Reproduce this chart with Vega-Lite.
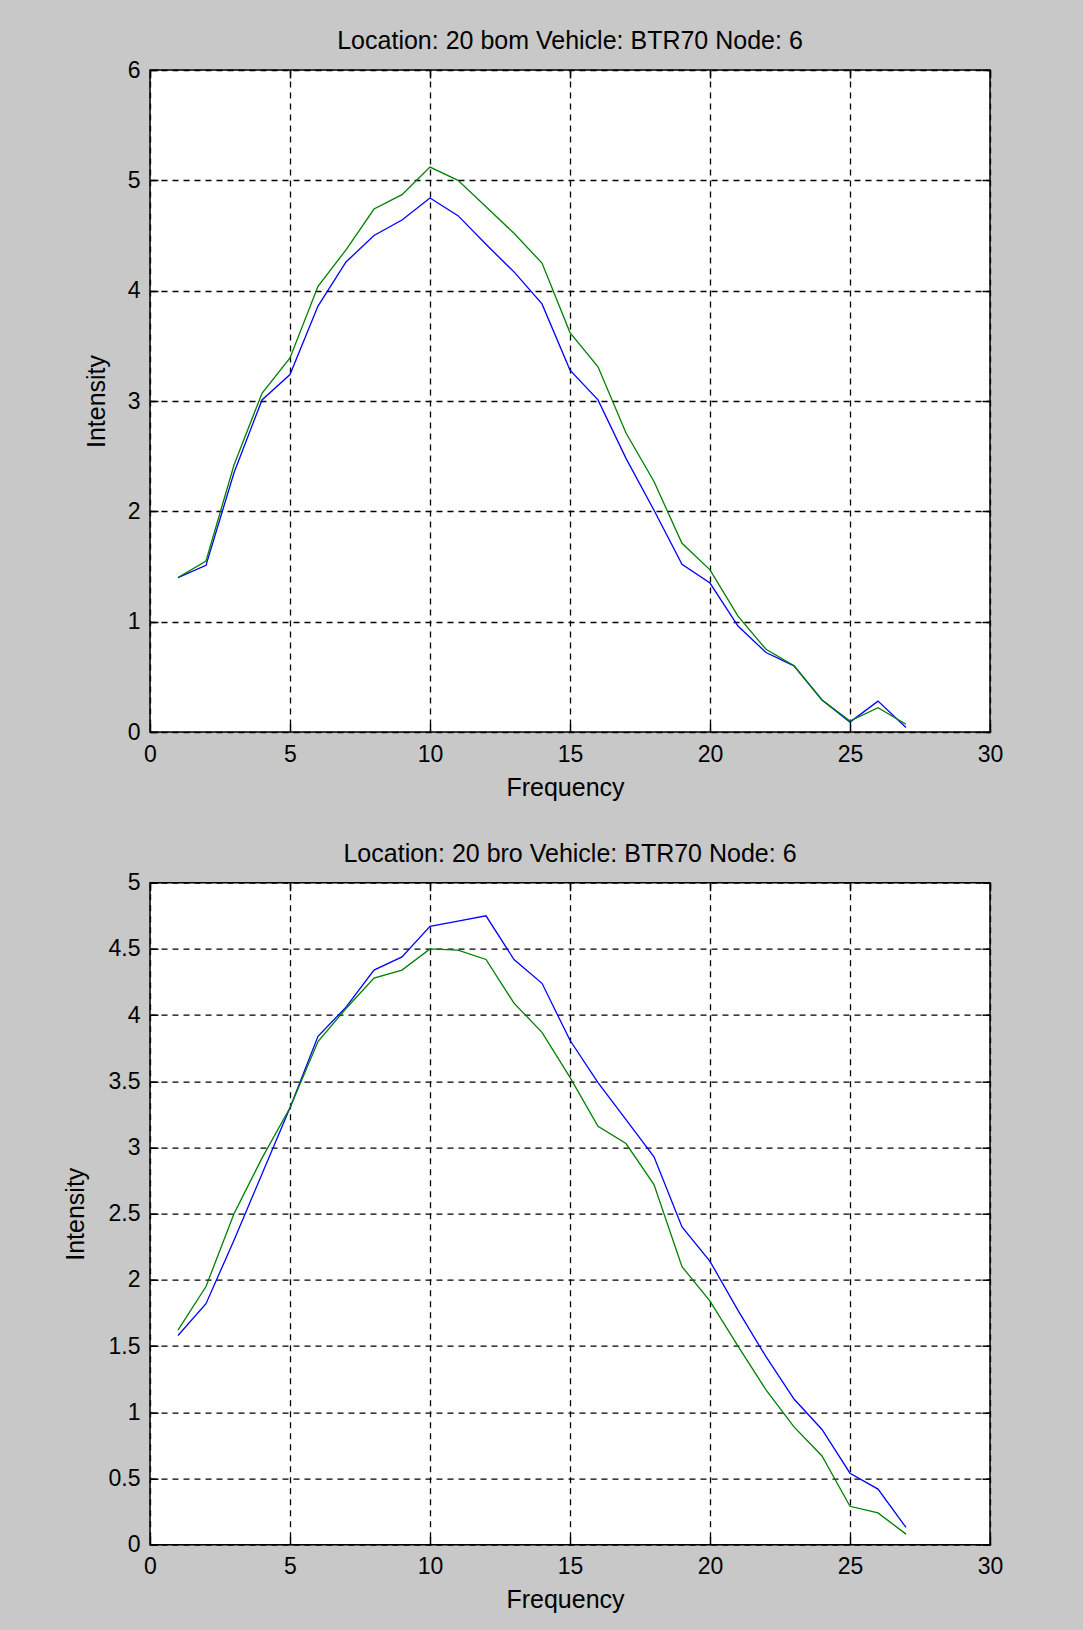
{
  "$schema": "https://vega.github.io/schema/vega-lite/v6.json",
  "background": "#c8c8c8",
  "padding": {"left": 62, "top": 28, "right": 94, "bottom": 20},
  "bounds": "flush",
  "spacing": 150.7,
  "datasets": {
    "top": [
      {"f":1,"v":1.40,"s":"b"},{"f":2,"v":1.51,"s":"b"},{"f":3,"v":2.35,"s":"b"},{"f":4,"v":3.01,"s":"b"},{"f":5,"v":3.24,"s":"b"},{"f":6,"v":3.86,"s":"b"},{"f":7,"v":4.26,"s":"b"},{"f":8,"v":4.50,"s":"b"},{"f":9,"v":4.64,"s":"b"},{"f":10,"v":4.84,"s":"b"},{"f":11,"v":4.68,"s":"b"},{"f":12,"v":4.42,"s":"b"},{"f":13,"v":4.17,"s":"b"},{"f":14,"v":3.88,"s":"b"},{"f":15,"v":3.28,"s":"b"},{"f":16,"v":3.01,"s":"b"},{"f":17,"v":2.48,"s":"b"},{"f":18,"v":2.01,"s":"b"},{"f":19,"v":1.52,"s":"b"},{"f":20,"v":1.35,"s":"b"},{"f":21,"v":0.96,"s":"b"},{"f":22,"v":0.72,"s":"b"},{"f":23,"v":0.60,"s":"b"},{"f":24,"v":0.29,"s":"b"},{"f":25,"v":0.09,"s":"b"},{"f":26,"v":0.28,"s":"b"},{"f":27,"v":0.04,"s":"b"},
      {"f":1,"v":1.40,"s":"g"},{"f":2,"v":1.55,"s":"g"},{"f":3,"v":2.42,"s":"g"},{"f":4,"v":3.07,"s":"g"},{"f":5,"v":3.39,"s":"g"},{"f":6,"v":4.04,"s":"g"},{"f":7,"v":4.37,"s":"g"},{"f":8,"v":4.74,"s":"g"},{"f":9,"v":4.87,"s":"g"},{"f":10,"v":5.12,"s":"g"},{"f":11,"v":5.00,"s":"g"},{"f":12,"v":4.76,"s":"g"},{"f":13,"v":4.52,"s":"g"},{"f":14,"v":4.25,"s":"g"},{"f":15,"v":3.62,"s":"g"},{"f":16,"v":3.31,"s":"g"},{"f":17,"v":2.71,"s":"g"},{"f":18,"v":2.27,"s":"g"},{"f":19,"v":1.71,"s":"g"},{"f":20,"v":1.47,"s":"g"},{"f":21,"v":1.05,"s":"g"},{"f":22,"v":0.75,"s":"g"},{"f":23,"v":0.60,"s":"g"},{"f":24,"v":0.29,"s":"g"},{"f":25,"v":0.10,"s":"g"},{"f":26,"v":0.22,"s":"g"},{"f":27,"v":0.07,"s":"g"}
    ],
    "bottom": [
      {"f":1,"v":1.58,"s":"b"},{"f":2,"v":1.82,"s":"b"},{"f":3,"v":2.30,"s":"b"},{"f":4,"v":2.80,"s":"b"},{"f":5,"v":3.30,"s":"b"},{"f":6,"v":3.84,"s":"b"},{"f":7,"v":4.06,"s":"b"},{"f":8,"v":4.34,"s":"b"},{"f":9,"v":4.44,"s":"b"},{"f":10,"v":4.67,"s":"b"},{"f":11,"v":4.71,"s":"b"},{"f":12,"v":4.75,"s":"b"},{"f":13,"v":4.42,"s":"b"},{"f":14,"v":4.24,"s":"b"},{"f":15,"v":3.81,"s":"b"},{"f":16,"v":3.49,"s":"b"},{"f":17,"v":3.21,"s":"b"},{"f":18,"v":2.93,"s":"b"},{"f":19,"v":2.40,"s":"b"},{"f":20,"v":2.14,"s":"b"},{"f":21,"v":1.77,"s":"b"},{"f":22,"v":1.42,"s":"b"},{"f":23,"v":1.10,"s":"b"},{"f":24,"v":0.87,"s":"b"},{"f":25,"v":0.54,"s":"b"},{"f":26,"v":0.42,"s":"b"},{"f":27,"v":0.13,"s":"b"},
      {"f":1,"v":1.62,"s":"g"},{"f":2,"v":1.95,"s":"g"},{"f":3,"v":2.50,"s":"g"},{"f":4,"v":2.92,"s":"g"},{"f":5,"v":3.30,"s":"g"},{"f":6,"v":3.80,"s":"g"},{"f":7,"v":4.05,"s":"g"},{"f":8,"v":4.28,"s":"g"},{"f":9,"v":4.34,"s":"g"},{"f":10,"v":4.50,"s":"g"},{"f":11,"v":4.49,"s":"g"},{"f":12,"v":4.42,"s":"g"},{"f":13,"v":4.09,"s":"g"},{"f":14,"v":3.87,"s":"g"},{"f":15,"v":3.53,"s":"g"},{"f":16,"v":3.16,"s":"g"},{"f":17,"v":3.03,"s":"g"},{"f":18,"v":2.72,"s":"g"},{"f":19,"v":2.10,"s":"g"},{"f":20,"v":1.84,"s":"g"},{"f":21,"v":1.50,"s":"g"},{"f":22,"v":1.17,"s":"g"},{"f":23,"v":0.89,"s":"g"},{"f":24,"v":0.67,"s":"g"},{"f":25,"v":0.29,"s":"g"},{"f":26,"v":0.24,"s":"g"},{"f":27,"v":0.08,"s":"g"}
    ]
  },
  "vconcat": [
    {
      "title": "Location: 20 bom Vehicle: BTR70 Node: 6",
      "width": 840,
      "height": 662,
      "data": {"name": "top"},
      "resolve": {"axis": {"x": "independent", "y": "independent"}},
      "layer": [
        {
          "mark": {"type": "line", "strokeWidth": 1.3},
          "encoding": {
            "x": {"field": "f", "type": "quantitative", "scale": {"domain": [0, 30], "nice": false},
                  "axis": {"orient": "bottom", "values": [0,5,10,15,20,25,30], "title": "Frequency", "grid": true, "labelPadding": 19, "titleX": 415, "titleY": 55, "titleBaseline": "middle"}},
            "y": {"field": "v", "type": "quantitative", "scale": {"domain": [0, 6], "nice": false},
                  "axis": {"orient": "left", "values": [0,1,2,3,4,5,6], "format": "~g", "title": "Intensity", "grid": true, "labelPadding": 18, "titleX": -54, "titleY": 331, "titleBaseline": "middle", "titleAngle": -90}},
            "color": {"field": "s", "type": "nominal", "scale": {"domain": ["b", "g"], "range": ["#0000ff", "#008000"]}, "legend": null}
          }
        },
        {
          "mark": {"type": "line", "strokeOpacity": 0},
          "encoding": {
            "x": {"field": "f", "type": "quantitative", "axis": {"orient": "top", "values": [0,5,10,15,20,25,30], "labels": false, "title": null, "grid": false}},
            "y": {"field": "v", "type": "quantitative", "axis": {"orient": "right", "values": [0,1,2,3,4,5,6], "labels": false, "title": null, "grid": false}},
            "detail": {"field": "s"}
          }
        }
      ]
    },
    {
      "title": "Location: 20 bro Vehicle: BTR70 Node: 6",
      "width": 840,
      "height": 662,
      "data": {"name": "bottom"},
      "resolve": {"axis": {"x": "independent", "y": "independent"}},
      "layer": [
        {
          "mark": {"type": "line", "strokeWidth": 1.3},
          "encoding": {
            "x": {"field": "f", "type": "quantitative", "scale": {"domain": [0, 30], "nice": false},
                  "axis": {"orient": "bottom", "values": [0,5,10,15,20,25,30], "title": "Frequency", "grid": true, "labelPadding": 19, "titleX": 415, "titleY": 55, "titleBaseline": "middle"}},
            "y": {"field": "v", "type": "quantitative", "scale": {"domain": [0, 5], "nice": false},
                  "axis": {"orient": "left", "values": [0,0.5,1,1.5,2,2.5,3,3.5,4,4.5,5], "format": "~g", "title": "Intensity", "grid": true, "labelPadding": 18, "titleX": -74.7, "titleY": 331, "titleBaseline": "middle", "titleAngle": -90}},
            "color": {"field": "s", "type": "nominal", "scale": {"domain": ["b", "g"], "range": ["#0000ff", "#008000"]}, "legend": null}
          }
        },
        {
          "mark": {"type": "line", "strokeOpacity": 0},
          "encoding": {
            "x": {"field": "f", "type": "quantitative", "axis": {"orient": "top", "values": [0,5,10,15,20,25,30], "labels": false, "title": null, "grid": false}},
            "y": {"field": "v", "type": "quantitative", "axis": {"orient": "right", "values": [0,0.5,1,1.5,2,2.5,3,3.5,4,4.5,5], "labels": false, "title": null, "grid": false}},
            "detail": {"field": "s"}
          }
        }
      ]
    }
  ],
  "config": {
    "font": "Liberation Sans",
    "view": {"fill": "white", "stroke": "black", "strokeWidth": 1.5},
    "axis": {
      "labelFont": "Liberation Sans", "labelFontSize": 23, "labelColor": "black", "labelFlush": false, "labelOverlap": false,
      "titleFont": "Liberation Sans", "titleFontSize": 25, "titleFontWeight": "normal", "titleColor": "black",
      "gridColor": "black", "gridDash": [6, 5], "gridOpacity": 1, "gridWidth": 1.3,
      "tickColor": "black", "tickSize": -8, "tickWidth": 1.5, "domain": false
    },
    "title": {"font": "Liberation Sans", "fontSize": 25, "fontWeight": "normal", "color": "black", "offset": 5, "anchor": "middle", "frame": "group"}
  }
}
